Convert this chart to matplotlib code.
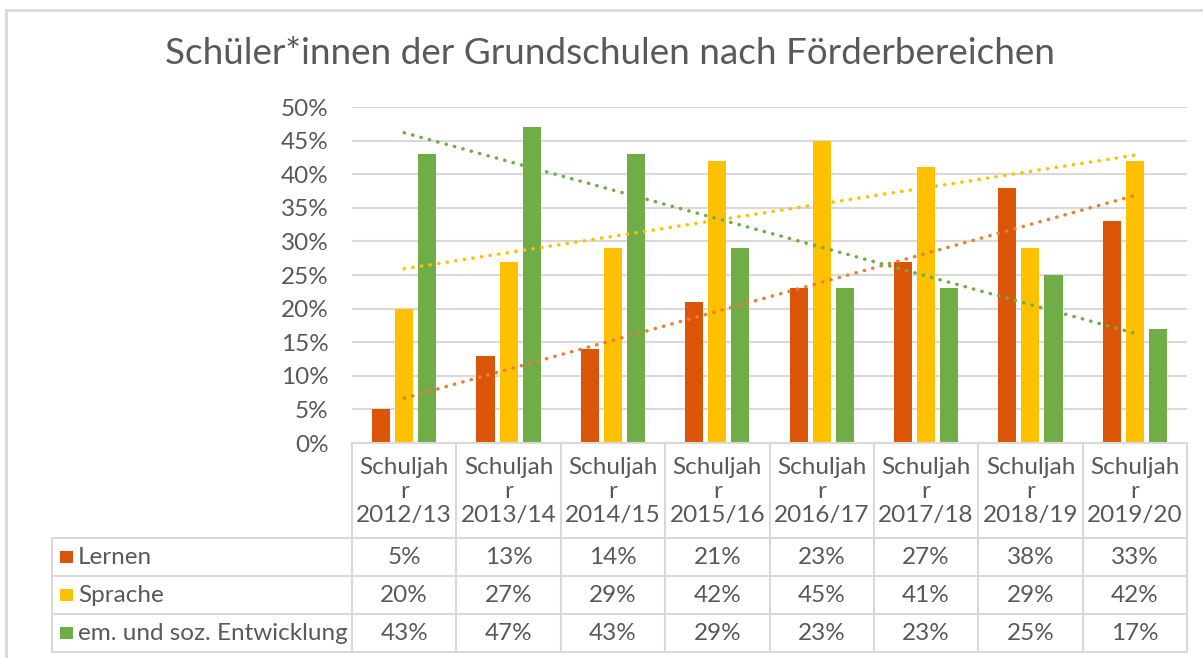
import numpy as np
import matplotlib
matplotlib.use("Agg")
import matplotlib.pyplot as plt
import matplotlib.transforms as mtransforms
from matplotlib.patches import Rectangle
from matplotlib.lines import Line2D

plt.rcParams['font.family'] = ['Lato', 'DejaVu Sans']

title = "Schüler*innen der Grundschulen nach Förderbereichen"
categories = ["Schuljahr 2012/13", "Schuljahr 2013/14", "Schuljahr 2014/15", "Schuljahr 2015/16",
              "Schuljahr 2016/17", "Schuljahr 2017/18", "Schuljahr 2018/19", "Schuljahr 2019/20"]
header_labels = ["Schuljah\nr\n2012/13", "Schuljah\nr\n2013/14", "Schuljah\nr\n2014/15", "Schuljah\nr\n2015/16",
                 "Schuljah\nr\n2016/17", "Schuljah\nr\n2017/18", "Schuljah\nr\n2018/19", "Schuljah\nr\n2019/20"]
series_names = ["Lernen", "Sprache", "em. und soz. Entwicklung"]
lernen = [5, 13, 14, 21, 23, 27, 38, 33]
sprache = [20, 27, 29, 42, 45, 41, 29, 42]
emsoz = [43, 47, 43, 29, 23, 23, 25, 17]
series_values = [lernen, sprache, emsoz]
bar_colors = ["#DA5508", "#FFC000", "#70AD47"]
trend_colors = ["#ED7D31", "#FFC000", "#70AD47"]
yticks = [0, 5, 10, 15, 20, 25, 30, 35, 40, 45, 50]

W, H = 1203, 658
fig = plt.figure(figsize=(W / 100, H / 100), dpi=100)
fig.patch.set_facecolor("white")

def fx(px):
    return px / W

def fy(py):
    return 1 - py / H

FS = 17.5
TC = "#595959"

ax_left, ax_right, ax_top, ax_bottom = 352, 1187, 107, 443
ax = fig.add_axes([fx(ax_left), fy(ax_bottom), fx(ax_right - ax_left), fy(ax_top) - fy(ax_bottom)])
n = len(categories)
x = np.arange(n) + 0.5
bw = 0.173
step = 0.221
for i, vals in enumerate(series_values):
    ax.bar(x + (i - 1) * step, vals, width=bw, color=bar_colors[i], zorder=3, linewidth=0)
for i, vals in enumerate(series_values):
    k, b = np.polyfit(np.arange(1, n + 1), vals, 1)
    xs = np.array([1, n])
    ax.plot(x[[0, -1]], k * xs + b, color=trend_colors[i], lw=2.5,
            ls=(0, (0.1, 2.4)), dash_capstyle='round', zorder=4)

ax.set_xlim(0, n)
ax.set_ylim(0, 50)
ax.set_yticks(yticks)
ax.set_yticklabels([f"{t}%" for t in yticks], fontsize=FS, color=TC)
ax.tick_params(axis='y', length=0, pad=17)
ax.set_xticks([])
ax.yaxis.grid(True, color="#D9D9D9", lw=1.5, zorder=0)
for s in ax.spines.values():
    s.set_visible(False)

# title
fig.text(fx(610), fy(54), title, ha='center', va='center', fontsize=26.6, color=TC)

# table in pixel coordinates (y from top)
ptrans = mtransforms.Affine2D().scale(1, -1).translate(0, H)
tab_left = 52
colw = (ax_right - ax_left) / n
row_tops = [443, 538, 576, 614, 652]
lc = "#D9D9D9"
lw = 1.5

def hline(x0, x1, y):
    fig.add_artist(Line2D([x0, x1], [y, y], transform=ptrans, color=lc, lw=lw))

def vline(xx, y0, y1):
    fig.add_artist(Line2D([xx, xx], [y0, y1], transform=ptrans, color=lc, lw=lw))

hline(ax_left, ax_right, row_tops[0])
for y in row_tops[1:]:
    hline(tab_left, ax_right, y)
vline(tab_left, row_tops[1], row_tops[-1])
for j in range(n + 1):
    vline(ax_left + j * colw, row_tops[0], row_tops[-1])

for j in range(n):
    cx = ax_left + (j + 0.5) * colw
    fig.text(cx, (row_tops[0] + row_tops[1]) / 2 + 1, header_labels[j], transform=ptrans,
             ha='center', va='center', fontsize=FS, color=TC, linespacing=1.15)
    for i, vals in enumerate(series_values):
        cy = (row_tops[i + 1] + row_tops[i + 2]) / 2
        fig.text(cx, cy, f"{vals[j]}%", transform=ptrans, ha='center', va='center',
                 fontsize=FS, color=TC)

for i, name in enumerate(series_names):
    cy = (row_tops[i + 1] + row_tops[i + 2]) / 2
    fig.add_artist(Rectangle((60, cy - 6), 13, 12, transform=ptrans, color=bar_colors[i], lw=0))
    fig.text(78, cy, name, transform=ptrans, ha='left', va='center', fontsize=FS, color=TC)

# chart border
fig.add_artist(Line2D([6, 6], [10, H], transform=ptrans, color=lc, lw=2))
fig.add_artist(Line2D([6, W], [10, 10], transform=ptrans, color=lc, lw=2))

fig.savefig("out.png", dpi=100)
